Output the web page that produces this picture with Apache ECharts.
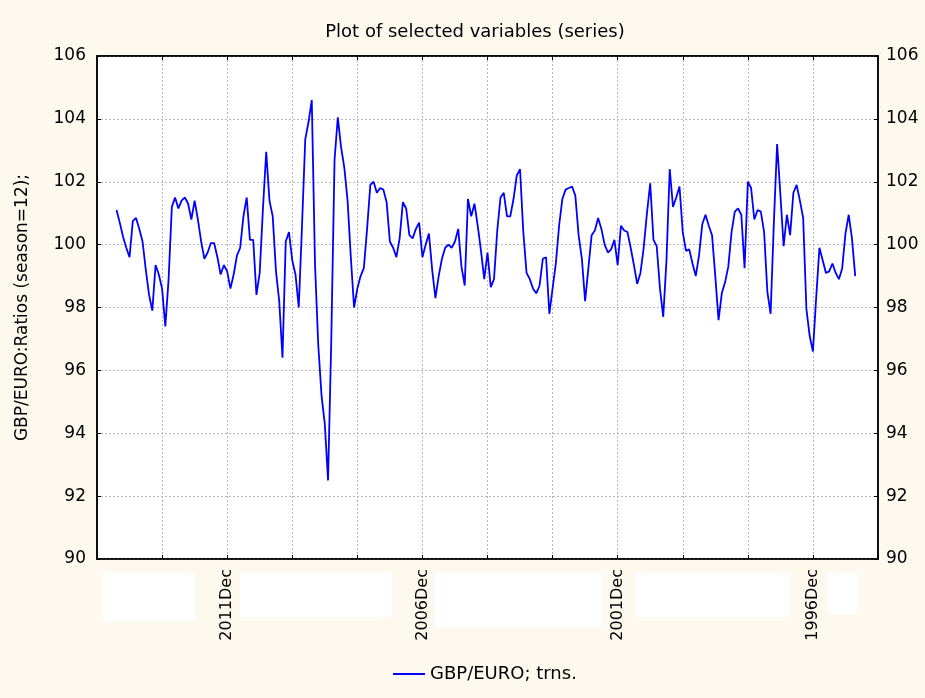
<!DOCTYPE html>
<html>
<head>
<meta charset="utf-8">
<script src="https://cdn.jsdelivr.net/npm/echarts@6/dist/echarts.min.js"></script>
<style>
  html, body { margin: 0; padding: 0; background: #fdf9ee; }
  #chart { width: 925px; height: 698px; }
</style>
</head>
<body>
<div id="chart"></div>
<script>
// months run backwards: first category is 2015Apr, last 1995Apr
const monthNames = ['Jan', 'Feb', 'Mar', 'Apr', 'May', 'Jun', 'Jul', 'Aug', 'Sep', 'Oct', 'Nov', 'Dec'];
const categoryCount = 241;
const startYear = 2015;
const startMonth = 3;

const tickLabels = ['2011Dec', '2006Dec', '2001Dec', '1996Dec'];

// GBP/EURO seasonal ratios, from 2014Oct back to 1995Dec
const firstIndex = 6;
const values = [
  101.1, 100.7, 100.25, 99.9, 99.6, 100.75, 100.85, 100.5, 100.1, 99.2,
  98.4, 97.9, 99.35, 99.05, 98.6, 97.4, 98.9, 101.2, 101.5, 101.15,
  101.4, 101.5, 101.3, 100.8, 101.4, 100.8, 100.1, 99.55, 99.75, 100.05,
  100.05, 99.6, 99.05, 99.35, 99.15, 98.6, 99.05, 99.65, 99.9, 100.9,
  101.5, 100.15, 100.15, 98.4, 99.1, 101.15, 102.95, 101.4, 100.9, 99.15,
  98.2, 96.4, 100.1, 100.4, 99.5, 99.05, 98.0, 100.6, 103.35, 103.9,
  104.6, 99.35, 96.8, 95.2, 94.3, 92.5, 97.0, 102.7, 104.05, 103.1,
  102.45, 101.4, 99.6, 98.0, 98.6, 99.0, 99.25, 100.5, 101.9, 102.0,
  101.65, 101.8, 101.75, 101.35, 100.1, 99.9, 99.6, 100.2, 101.35, 101.15,
  100.3, 100.2, 100.5, 100.7, 99.6, 100.0, 100.35, 99.2, 98.3, 99.0,
  99.55, 99.9, 100.0, 99.9, 100.1, 100.5, 99.3, 98.7, 101.45, 100.9,
  101.3, 100.6, 99.8, 98.9, 99.75, 98.65, 98.9, 100.45, 101.5, 101.65,
  100.9, 100.9, 101.45, 102.2, 102.4, 100.4, 99.1, 98.9, 98.6, 98.45,
  98.7, 99.55, 99.6, 97.8, 98.6, 99.4, 100.6, 101.45, 101.75, 101.8,
  101.85, 101.55, 100.3, 99.55, 98.2, 99.25, 100.3, 100.45, 100.85, 100.5,
  100.0, 99.75, 99.85, 100.15, 99.35, 100.6, 100.45, 100.4, 99.9, 99.35,
  98.75, 99.1, 99.9, 101.0, 101.95, 100.15, 99.95, 98.6, 97.7, 99.5,
  102.4, 101.2, 101.5, 101.85, 100.4, 99.8, 99.85, 99.4, 99.0, 99.65,
  100.65, 100.95, 100.6, 100.3, 99.0, 97.6, 98.45, 98.8, 99.3, 100.4,
  101.05, 101.15, 100.95, 99.25, 102.0, 101.8, 100.8, 101.1, 101.05, 100.4,
  98.5, 97.8, 100.7, 103.2, 101.6, 99.95, 100.95, 100.3, 101.65, 101.9,
  101.4, 100.85, 97.95, 97.1, 96.6, 98.3, 99.9, 99.5, 99.1, 99.15,
  99.4, 99.1, 98.9, 99.25, 100.35, 100.95, 100.2, 99.0
];

const categories = [];
for (let i = 0; i < categoryCount; i++) {
  const m = startYear * 12 + startMonth - i;
  categories.push(Math.floor(m / 12) + monthNames[m % 12]);
}
const seriesData = categories.map((c, i) => {
  const k = i - firstIndex;
  return k >= 0 && k < values.length ? values[k] : null;
});

const chart = echarts.init(document.getElementById('chart'));

const isTick = (i) => i % 20 === 0;
const isGrid = (i) => i % 20 === 0 && i > 0 && i < categoryCount - 1;
const font = 'DejaVu Sans, Verdana, sans-serif';

const yAxisBase = {
  type: 'value',
  min: 90,
  max: 106,
  interval: 2,
  axisLine: { show: true, lineStyle: { color: '#000', width: 1.5 } },
  axisTick: { show: true, inside: true, length: 4, lineStyle: { color: '#000' } },
  axisLabel: { color: '#000', fontSize: 17, fontFamily: font },
};

const option = {
  backgroundColor: '#fdf9ee',
  animation: false,
  title: {
    text: 'Plot of selected variables (series)',
    left: 470,
    textAlign: 'center',
    top: 18,
    textStyle: { color: '#000', fontSize: 18, fontWeight: 'normal', fontFamily: font },
  },
  legend: {
    bottom: 10,
    left: 388,
    icon: 'rect',
    itemWidth: 32,
    itemHeight: 2,
    itemGap: 10,
    textStyle: { color: '#000', fontSize: 18, fontFamily: font },
    data: ['GBP/EURO; trns.'],
  },
  grid: {
    left: 97,
    right: 47,
    top: 56,
    bottom: 139,
    show: true,
    backgroundColor: '#fff',
    borderColor: '#000',
    borderWidth: 1.5,
  },
  graphic: [
    { type: 'rect', shape: { x: 103, y: 573, width: 92, height: 48 }, style: { fill: '#fff' }, z: -1 },
    { type: 'rect', shape: { x: 240, y: 573, width: 152, height: 44 }, style: { fill: '#fff' }, z: -1 },
    { type: 'rect', shape: { x: 435, y: 573, width: 167, height: 54 }, style: { fill: '#fff' }, z: -1 },
    { type: 'rect', shape: { x: 636, y: 573, width: 154, height: 44 }, style: { fill: '#fff' }, z: -1 },
    { type: 'rect', shape: { x: 828, y: 573, width: 29, height: 41 }, style: { fill: '#fff' }, z: -1 },
  ],
  xAxis: [
    {
      type: 'category',
      data: categories,
      boundaryGap: false,
      axisLine: { lineStyle: { color: '#000', width: 1.5 } },
      axisTick: { inside: true, length: 4, interval: isTick, lineStyle: { color: '#000' } },
      axisLabel: {
        interval: (i, v) => tickLabels.includes(v),
        rotate: 90,
        margin: 10,
        color: '#000',
        fontSize: 16,
        fontFamily: font,
      },
      splitLine: {
        show: true,
        interval: isGrid,
        lineStyle: { color: '#b8b8b8', type: [2, 2] },
      },
    },
    {
      type: 'category',
      data: categories,
      position: 'top',
      boundaryGap: false,
      axisLine: { lineStyle: { color: '#000', width: 1.5 } },
      axisTick: { inside: true, length: 4, interval: isTick, lineStyle: { color: '#000' } },
      axisLabel: { show: false },
    },
  ],
  yAxis: [
    Object.assign({}, yAxisBase, {
      position: 'left',
      name: 'GBP/EURO:Ratios (season=12);',
      nameLocation: 'middle',
      nameGap: 66,
      nameRotate: 90,
      nameTextStyle: { color: '#000', fontSize: 17, fontFamily: font },
      axisLabel: Object.assign({}, yAxisBase.axisLabel, { margin: 11 }),
      splitLine: { show: true, lineStyle: { color: '#b8b8b8', type: [2, 2] } },
    }),
    Object.assign({}, yAxisBase, {
      position: 'right',
      axisLabel: Object.assign({}, yAxisBase.axisLabel, { margin: 8 }),
      splitLine: { show: false },
    }),
  ],
  series: [
    {
      name: 'GBP/EURO; trns.',
      type: 'line',
      data: seriesData,
      showSymbol: false,
      symbol: 'none',
      connectNulls: false,
      lineStyle: { color: '#0000ff', width: 1.8 },
      itemStyle: { color: '#0000ff' },
    },
  ],
};

chart.setOption(option);
</script>
</body>
</html>
